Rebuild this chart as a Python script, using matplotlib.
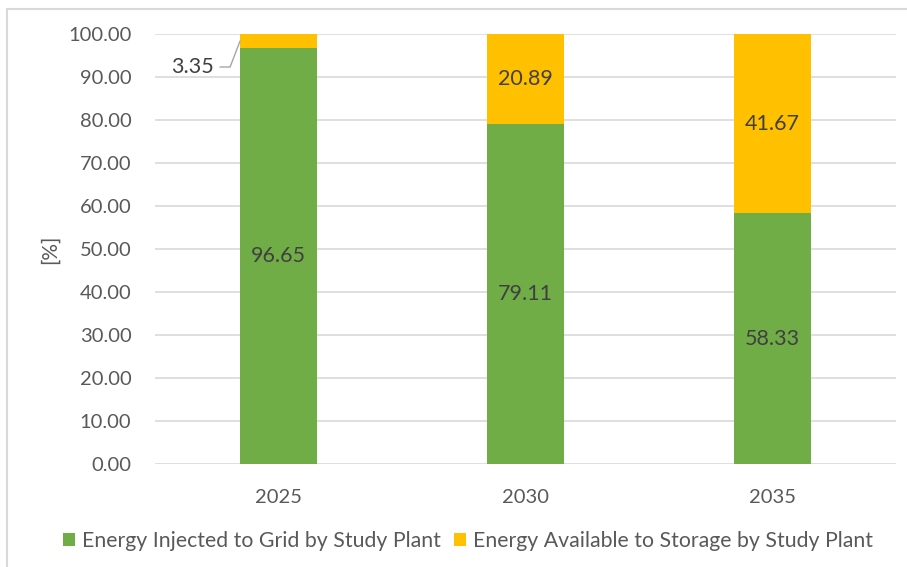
import matplotlib
matplotlib.use("Agg")
import matplotlib.pyplot as plt
from matplotlib.patches import Rectangle, Patch
import numpy as np

# Data
years = ["2025", "2030", "2035"]
grid_injected = [96.65, 79.11, 58.33]
storage_available = [3.35, 20.89, 41.67]
y_ticks = [0, 10, 20, 30, 40, 50, 60, 70, 80, 90, 100]
series_names = ["Energy Injected to Grid by Study Plant",
                "Energy Available to Storage by Study Plant"]

GREEN = "#70AD47"
GOLD = "#FFC000"
TICK_COL = "#595959"
LABEL_COL = "#404040"
GRID_COL = "#D9D9D9"

plt.rcParams["font.family"] = ["Lato", "DejaVu Sans"]

W, H = 907, 567
fig = plt.figure(figsize=(W / 100, H / 100), dpi=100)

# outer chart frame (only top/left edges fall inside the canvas)
fig.patches.append(Rectangle((7 / W, -0.1), 1.2, 1 - 9 / H + 0.1,
                             transform=fig.transFigure, fill=False,
                             edgecolor=GRID_COL, linewidth=1.5))

ax = fig.add_axes([155 / W, 1 - 464 / H, (896 - 155) / W, (464 - 34) / H])
x = np.arange(len(years))
width = 0.312

ax.bar(x, grid_injected, width, color=GREEN, zorder=3)
ax.bar(x, storage_available, width, bottom=grid_injected, color=GOLD, zorder=3)

ax.set_xlim(-0.5, len(years) - 0.5)
ax.set_ylim(0, 100)
ax.set_yticks(y_ticks)
ax.set_yticklabels([f"{v:.2f}" for v in y_ticks])
ax.set_xticks(x)
ax.set_xticklabels(years)
ax.tick_params(axis="both", length=0, labelsize=14.5, colors=TICK_COL)
ax.tick_params(axis="y", pad=17)
ax.tick_params(axis="x", pad=18)
for s in ax.spines.values():
    s.set_visible(False)
ax.grid(axis="y", color=GRID_COL, linewidth=1.2, zorder=0)
ax.set_axisbelow(True)

ax.set_ylabel("[%]", fontsize=15, color=TICK_COL, labelpad=6)

# value labels
for i, (g, s) in enumerate(zip(grid_injected, storage_available)):
    ax.text(i, g / 2, f"{g:.2f}", ha="center", va="center",
            fontsize=15.5, color=LABEL_COL, zorder=4)
    mid = g + s / 2
    if s < 8:
        # small segment: label placed to the left with a leader line
        ly = mid - 6
        ax.plot([i - 0.236, i - 0.196, i - width / 2], [ly, ly, mid],
                color="#A6A6A6", linewidth=1, zorder=4, clip_on=False)
        ax.text(i - 0.262, ly, f"{s:.2f}", ha="right", va="center",
                fontsize=15.5, color=LABEL_COL, zorder=4)
    else:
        ax.text(i, mid, f"{s:.2f}", ha="center", va="center",
                fontsize=15.5, color=LABEL_COL, zorder=4)

handles = [Patch(facecolor=GREEN, edgecolor="none"),
           Patch(facecolor=GOLD, edgecolor="none")]
fig.legend(handles, series_names, loc="center",
           bbox_to_anchor=(468 / W, 1 - 541 / H), ncol=2, frameon=False,
           fontsize=15.3, labelcolor=TICK_COL, handlelength=0.55,
           handleheight=0.55, handletextpad=0.35, columnspacing=0.6)

fig.savefig("out.png", dpi=100)
